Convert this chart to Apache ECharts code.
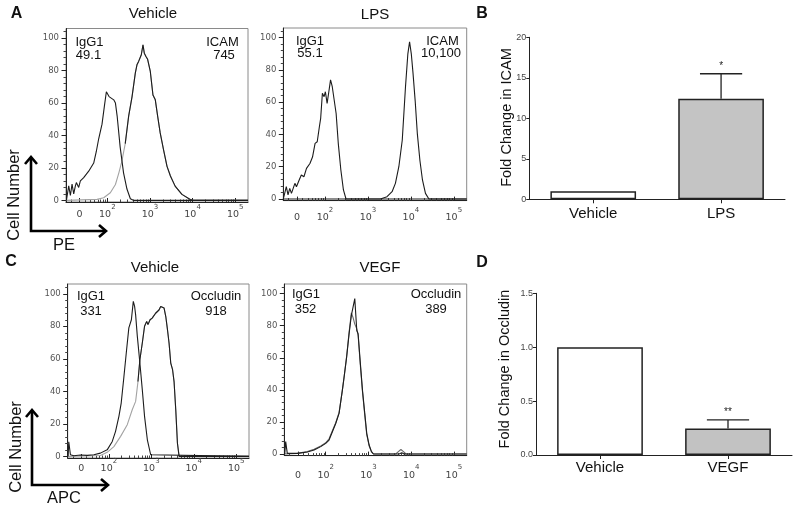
<!DOCTYPE html>
<html><head><meta charset="utf-8">
<script src="https://cdn.jsdelivr.net/npm/echarts@6/dist/echarts.min.js"></script>
<style>html,body{margin:0;padding:0;background:#fff}#c{width:800px;height:511px}</style>
</head><body><div id="c"></div>
<script>
// ---------- DATA (x in log10 display decades of fluorescence, y = cell count % of max) ----------
const vehA_IgG1 = [[1.04,0],[1.055,0.5],[1.094,9],[1.133,3],[1.172,10],[1.211,4],[1.25,9],[1.273,11],[1.328,8],[1.367,12],[1.445,14],[1.5625,18],[1.68,23],[1.74,30],[1.797,38],[1.875,47],[1.93,58],[1.977,67],[2.0,68],[2.008,66],[2.04,64],[2.07,63],[2.15,62],[2.19,60],[2.23,52],[2.30,33],[2.38,17],[2.46,7],[2.54,1],[2.62,0],[5.3,0]];
const vehA_ICAM = [[1.04,0],[1.758,0.6],[1.914,1.6],[2.07,4.7],[2.19,9.8],[2.27,17],[2.34,24],[2.42,35],[2.5,52],[2.58,64],[2.656,78.5],[2.695,83.6],[2.734,85.7],[2.773,84.6],[2.797,89.8],[2.836,96],[2.867,90.8],[2.906,88.7],[2.945,87],[3.008,79.5],[3.07,65],[3.125,62],[3.18,52],[3.24,41.6],[3.32,31],[3.40,21],[3.48,15],[3.59,8.8],[3.75,3.7],[3.945,0.6],[4.02,0],[5.3,0]];
const lps_IgG1 = [[1.03,0],[1.0625,3.5],[1.10,7.6],[1.14,2.5],[1.18,6.6],[1.22,3.5],[1.26,6.6],[1.30,9.7],[1.336,7.6],[1.40,11.8],[1.45,14.9],[1.51,13.8],[1.57,19],[1.65,22],[1.71,26],[1.77,34.5],[1.82,35.5],[1.87,44.8],[1.90,50],[1.94,65.5],[1.98,63.4],[2.01,66.5],[2.05,59.3],[2.09,66.5],[2.13,73.8],[2.17,69.6],[2.21,68.6],[2.26,53],[2.31,34.5],[2.37,18],[2.43,5.6],[2.49,0],[5.3,0]];
const lps_ICAM = [[1.03,0],[3.29,0],[3.445,1.4],[3.5625,4.5],[3.64,9.7],[3.72,20],[3.80,36.6],[3.875,69.6],[3.93,90],[3.97,97.5],[4.01,90],[4.05,78],[4.10,61],[4.15,40.7],[4.21,24],[4.27,11.8],[4.34,3.5],[4.42,0],[5.3,0]];
const vehC_IgG1 = [[1.04,0],[1.055,9],[1.094,1],[1.173,0.4],[1.33,0.8],[1.49,0.6],[1.646,1],[1.80,2],[1.96,4],[2.08,9.2],[2.157,15.4],[2.236,24.6],[2.29,32.8],[2.354,49],[2.417,65.6],[2.47,79],[2.53,84],[2.575,95.3],[2.606,92.2],[2.63,87],[2.67,73.8],[2.73,57.4],[2.787,41],[2.84,24.6],[2.906,10.2],[2.984,1],[3.02,0],[5.3,0]];
const vehC_Occl = [[1.04,0],[1.8,0.5],[1.96,2.5],[2.118,6],[2.276,12.3],[2.433,19.5],[2.55,28.7],[2.63,33.8],[2.685,46],[2.73,59.4],[2.787,69.7],[2.84,80],[2.89,83],[2.92,81],[2.97,84],[3.02,85],[3.06,86],[3.10,88],[3.14,89],[3.18,90],[3.22,92.2],[3.26,93.2],[3.30,91.2],[3.34,86],[3.38,77.9],[3.417,69.7],[3.457,57.4],[3.50,53.3],[3.535,46],[3.575,28.7],[3.614,8.2],[3.654,0],[5.3,0]];
const vegf_IgG1 = [[1.04,0],[1.0625,7.7],[1.10,0.4],[1.336,0.4],[1.57,1.2],[1.727,2.5],[1.883,4.6],[2.0,6.6],[2.078,8.7],[2.156,13.9],[2.234,19],[2.3125,25.3],[2.39,39.8],[2.43,48],[2.49,60.6],[2.547,75],[2.60,86.5],[2.64,85.5],[2.68,96.9],[2.727,77],[2.758,75],[2.805,58.5],[2.86,39.8],[2.914,25.3],[2.96,12.9],[3.016,5.6],[3.07,1.5],[3.117,0],[3.72,0],[3.78,0.8],[3.836,0],[5.3,0]];
const vegf_Occl = [[1.04,0],[1.336,0.4],[1.57,1.5],[1.727,3],[1.883,5],[2.0,7],[2.078,9.5],[2.156,14.5],[2.234,19.5],[2.3125,26],[2.39,40],[2.43,48],[2.49,61],[2.547,76],[2.60,88],[2.64,85],[2.68,81],[2.727,78],[2.758,74],[2.805,57],[2.86,39],[2.914,24],[2.96,12],[3.016,5],[3.07,1.5],[3.117,0],[3.64,0],[3.70,1.5],[3.76,2.8],[3.82,1.5],[3.88,0],[5.3,0]];

const flowXTicks = [1.35, 2, 3, 4, 5];
const flowXTickLabels = ['0', '2', '3', '4', '5'];   // '0' or exponent of 10
const flowYTicks = [0, 20, 40, 60, 80, 100];

const catsB = ['Vehicle', 'LPS'];
const icamMean = [1.0, 12.4];
const icamTop = [1.0, 15.5];
const icamSig = ['', '*'];

const catsD = ['Vehicle', 'VEGF'];
const occlMean = [1.0, 0.245];
const occlTop = [1.0, 0.325];
const occlSig = ['', '**'];

// ---------- BUILD ----------
const FONT = "'Liberation Sans', Arial, sans-serif";
const TICKFONT = "'DejaVu Sans', sans-serif";
const DARK = '#1c1c1c';
const GREY = '#a3a3a3';

const xMinor = [];
for (let k = 1; k <= 4; k++) for (let m = 2; m <= 9; m++) { const v = k + Math.log10(m); if (v > 1.4) xMinor.push(v); }
xMinor.push(1.15);
const yMinor = [];
for (let v = 4; v <= 104; v += 4) if (v % 20 !== 0) yMinor.push(v);

const grids = [], xAxes = [], yAxes = [], series = [], graphics = [];

function addFlow(g, labelMargin, curves) {
  const gi = grids.length;
  grids.push({left: g[0], top: g[1], width: g[2], height: g[3], show: true, borderColor: '#8a8a8a', borderWidth: 1, backgroundColor: 'transparent'});
  const xi = xAxes.length;
  xAxes.push({type: 'value', gridIndex: gi, position: 'bottom', min: 1.03, max: 5.3,
    axisLine: {show: true, onZero: false, lineStyle: {color: '#222', width: 1}},
    splitLine: {show: false},
    axisTick: {show: true, inside: true, length: 4, customValues: flowXTicks, lineStyle: {color: '#222'}},
    axisLabel: {show: true, customValues: flowXTicks, margin: labelMargin,
      formatter: function (v) {
        const i = flowXTicks.findIndex(t => Math.abs(t - v) < 1e-6);
        const l = flowXTickLabels[i];
        return l === '0' ? '{b|0}' : '{b|10}{s|' + l + '}';
      },
      rich: {b: {fontSize: 9.5, fontFamily: TICKFONT, color: '#444', padding: [6, 0, 0, 0]},
             s: {fontSize: 7, fontFamily: TICKFONT, color: '#444', verticalAlign: 'top'}}}
  });
  xAxes.push({type: 'value', gridIndex: gi, position: 'bottom', min: 1.03, max: 5.3,
    axisLine: {show: false, onZero: false}, splitLine: {show: false}, axisLabel: {show: false},
    axisTick: {show: true, inside: true, length: 2.5, customValues: xMinor, lineStyle: {color: '#444'}}});
  const yi = yAxes.length;
  yAxes.push({type: 'value', gridIndex: gi, position: 'left', min: -1, max: 106,
    axisLine: {show: true, onZero: false, lineStyle: {color: '#222', width: 1}},
    splitLine: {show: false},
    axisTick: {show: true, length: 4.5, customValues: flowYTicks, lineStyle: {color: '#222'}},
    axisLabel: {customValues: flowYTicks, margin: 7, fontSize: 8.5, color: '#555', fontFamily: TICKFONT}});
  yAxes.push({type: 'value', gridIndex: gi, position: 'left', min: -1, max: 106,
    axisLine: {show: false, onZero: false}, splitLine: {show: false}, axisLabel: {show: false},
    axisTick: {show: true, length: 2.5, customValues: yMinor, lineStyle: {color: '#444'}}});
  const addLine = (data, color) => series.push({type: 'line', xAxisIndex: xi, yAxisIndex: yi, data: data, symbol: 'none', showSymbol: false,
      lineStyle: {width: 1.1, color: color}, itemStyle: {color: color}, silent: true, animation: false, z: 3});
  curves.forEach(c => {
    if (c.greyBelow) {
      addLine(c.data, GREY);
      addLine(c.data.filter(p => p[0] >= c.greyBelow), c.color);
    } else addLine(c.data, c.color);
  });
}

function addBars(g, cats, means, tops, sigs, ymax, interval, fmt, catMargin, fills) {
  const gi = grids.length;
  grids.push({left: g[0], top: g[1], width: g[2], height: g[3]});
  const xi = xAxes.length;
  xAxes.push({type: 'category', gridIndex: gi, data: cats,
    axisLine: {show: true, lineStyle: {color: '#222', width: 1}},
    axisTick: {show: true, alignWithLabel: true, length: 4, lineStyle: {color: '#222'}},
    axisLabel: {fontSize: 15, color: '#111', fontFamily: FONT, margin: catMargin}});
  const yi = yAxes.length;
  yAxes.push({type: 'value', gridIndex: gi, min: 0, max: ymax, interval: interval,
    axisLine: {show: true, lineStyle: {color: '#222', width: 1}},
    axisTick: {show: true, length: 3, lineStyle: {color: '#222'}},
    splitLine: {show: false},
    axisLabel: {fontSize: 9, color: '#444', fontFamily: FONT, margin: 3, formatter: fmt}});
  series.push({type: 'bar', xAxisIndex: xi, yAxisIndex: yi, barWidth: '67%', animation: false, silent: true,
    data: means.map((v, i) => ({value: v, itemStyle: {color: fills[i], borderColor: '#222', borderWidth: 1.5}}))});
  series.push({type: 'custom', xAxisIndex: xi, yAxisIndex: yi, animation: false, silent: true, z: 5,
    data: means.map((v, i) => [i, v, tops[i]]),
    encode: {x: 0, y: [1, 2]},
    renderItem: function (params, api) {
      const m = api.value(1), t = api.value(2);
      if (!(t > m)) return null;
      const p0 = api.coord([api.value(0), m]);
      const p1 = api.coord([api.value(0), t]);
      const half = api.size([1, 0])[0] * 0.165;
      const st = {stroke: '#222', lineWidth: 1.3};
      return {type: 'group', children: [
        {type: 'line', shape: {x1: p0[0], y1: p0[1], x2: p1[0], y2: p1[1]}, style: st},
        {type: 'line', shape: {x1: p1[0] - half, y1: p1[1], x2: p1[0] + half, y2: p1[1]}, style: st},
        {type: 'text', x: p1[0], y: p1[1] - 3, style: {text: sigs[params.dataIndex], fontSize: 10, fontFamily: FONT, fill: '#222',
          align: 'center', verticalAlign: 'bottom', textAlign: 'center', textVerticalAlign: 'bottom'}}
      ]};
    }});
}

addFlow([66, 28.5, 182, 173.5], 2, [{data: vehA_ICAM, color: DARK, greyBelow: 2.37}, {data: vehA_IgG1, color: DARK}]);
addFlow([283.3, 28, 183.4, 172.6], 6, [{data: lps_ICAM, color: DARK}, {data: lps_IgG1, color: DARK}]);
addFlow([67.7, 284, 181.3, 174], 0, [{data: vehC_Occl, color: DARK, greyBelow: 2.685}, {data: vehC_IgG1, color: DARK}]);
addFlow([284.3, 284, 182.4, 171.6], 8.5, [{data: vegf_Occl, color: '#6a6a6a'}, {data: vegf_IgG1, color: DARK}]);
addBars([529.3, 37.3, 255.7, 162], catsB, icamMean, icamTop, icamSig, 20, 5, v => String(v), 7, ['#ffffff', '#c4c4c4']);
addBars([536, 293.3, 256, 161.7], catsD, occlMean, occlTop, occlSig, 1.5, 0.5, v => v.toFixed(1), 5, ['#ffffff', '#c2c2c2']);

function txt(t, x, y, size, extra) {
  extra = extra || {};
  return {type: 'text', x: x, y: y, rotation: extra.rot || 0, silent: true, z: 10,
    style: {text: t, fontSize: size, fontFamily: FONT, fontWeight: extra.bold ? 'bold' : 'normal', fill: extra.fill || '#111',
      align: 'center', verticalAlign: 'middle', textAlign: 'center', textVerticalAlign: 'middle'}};
}
graphics.push(txt('A', 16.5, 14, 16, {bold: true}), txt('B', 482, 14, 16, {bold: true}),
              txt('C', 11, 261.5, 16, {bold: true}), txt('D', 482, 263, 16, {bold: true}));
graphics.push(txt('Vehicle', 153, 13.5, 15), txt('LPS', 375, 15, 15), txt('Vehicle', 155, 268, 15), txt('VEGF', 380, 268, 15));
graphics.push(txt('IgG1', 89.5, 42.7, 13), txt('49.1', 88.5, 55, 13), txt('ICAM', 222.5, 42.7, 13), txt('745', 224, 55, 13));
graphics.push(txt('IgG1', 310, 41.7, 13), txt('55.1', 310, 53.3, 13), txt('ICAM', 442.5, 41.7, 13), txt('10,100', 441, 53.3, 13));
graphics.push(txt('IgG1', 91, 296.7, 13), txt('331', 91, 311, 13), txt('Occludin', 216, 296.7, 13), txt('918', 216, 311, 13));
graphics.push(txt('IgG1', 306, 294, 13), txt('352', 305.5, 309, 13), txt('Occludin', 436, 294, 13), txt('389', 436, 309, 13));
graphics.push(txt('Fold Change in ICAM', 506.7, 117.5, 14.5, {rot: Math.PI / 2}));
graphics.push(txt('Fold Change in Occludin', 505, 369, 14.5, {rot: Math.PI / 2}));
function arrows(x0, yTop, yBase, xRight) {
  const st = {stroke: '#000', lineWidth: 2.6, fill: null, lineJoin: 'miter'};
  return [
    {type: 'polyline', silent: true, shape: {points: [[x0, yTop + 1], [x0, yBase], [xRight - 1, yBase]]}, style: st},
    {type: 'polyline', silent: true, shape: {points: [[x0 - 6, yTop + 7], [x0, yTop], [x0 + 6, yTop + 7]]}, style: st},
    {type: 'polyline', silent: true, shape: {points: [[xRight - 7, yBase - 6], [xRight, yBase], [xRight - 7, yBase + 6]]}, style: st}
  ];
}
graphics.push(...arrows(31, 157, 231, 106));
graphics.push(...arrows(32, 410, 485, 108));
graphics.push(txt('Cell Number', 14, 195, 16.5, {rot: Math.PI / 2}), txt('PE', 64, 245, 16.5));
graphics.push(txt('Cell Number', 16.5, 447, 16.5, {rot: Math.PI / 2}), txt('APC', 64, 498, 16.5));

const chart = echarts.init(document.getElementById('c'), null, {renderer: 'canvas', width: 800, height: 511});
chart.setOption({
  backgroundColor: '#ffffff',
  animation: false,
  grid: grids, xAxis: xAxes, yAxis: yAxes, series: series,
  graphic: {elements: graphics}
});
</script></body></html>
